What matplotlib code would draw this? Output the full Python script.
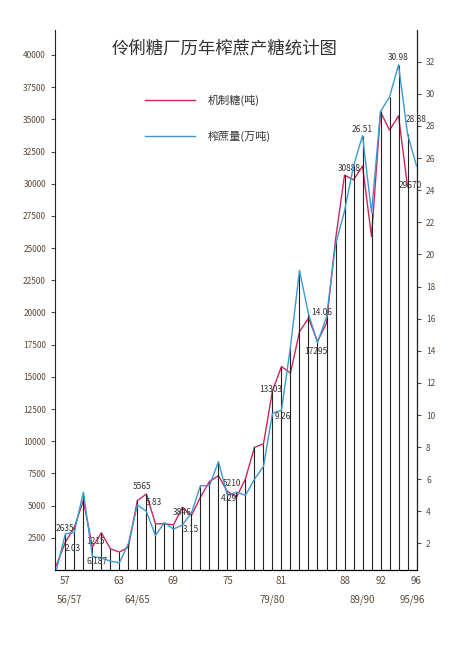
import numpy as np
import matplotlib
matplotlib.use('Agg')
from matplotlib import pyplot as plt

plt.rcParams['font.family'] = ['Noto Sans CJK SC', 'DejaVu Sans']

# sugar output (tons), 1956..1995
sugar_years = list(range(56, 96))
sugar = [360, 2160, 3330, 5400, 1780, 2890, 1650, 1390, 1780, 5400,
         5900, 3590, 3590, 3500, 4880, 4230, 5650, 6870, 7330, 6090,
         5650, 7080, 9530, 9790, 13920, 15800, 15300, 18500, 19560, 17750,
         19170, 25650, 30670, 30300, 31370, 25900, 35580, 34160, 35270, 29770]
# cane crushed (10k tons), 1956..1996
cane_years = list(range(56, 97))
cane = [0.35, 2.6, 2.7, 5.2, 1.2, 1.1, 0.9, 0.8, 2.0, 4.4,
        4.0, 2.5, 3.3, 2.9, 3.15, 3.9, 5.6, 5.6, 7.1, 5.0,
        5.2, 5.0, 6.0, 6.8, 10.1, 10.3, 14.25, 19.0, 16.3, 14.5,
        16.1, 20.6, 22.7, 25.5, 27.4, 22.6, 28.9, 29.8, 31.8, 27.5, 25.5]

x_ticks = [57, 63, 69, 75, 81, 88, 92, 96]
seasons = [(57.5, '56/57'), (65, '64/65'), (80, '79/80'), (90, '89/90'), (95.5, '95/96')]
left_notes = [(57, 2900, '2635'), (60.3, 1900, '1215'), (65.5, 6100, '5565'),
              (70, 4100, '3846'), (75.5, 6400, '5210'), (79.8, 13700, '13303'),
              (84.8, 16600, '17295'), (88.5, 30800, '30888'), (95.3, 29500, '29670')]
right_notes = [(57.8, 1.4, '2.03'), (60.5, 0.6, '6.187'), (66.8, 4.3, '5.83'),
               (71, 2.6, '3.15'), (75.2, 4.5, '4.29'), (81.2, 9.6, '9.26'),
               (85.5, 16.1, '14.06'), (90, 27.5, '26.51'), (94, 32.0, '30.98'),
               (96, 28.1, '28.88')]

ink = '#5a4a3a'
red = '#c8285a'
blue = '#3a9ad0'

fig = plt.figure(figsize=(4.5, 6.57), dpi=100)
ax = fig.add_axes([55 / 450, 1 - 570 / 657, 362 / 450, 540 / 657])
ax2 = ax.twinx()

ax.set_xlim(55.85, 96.05)
ax.set_ylim(0, 41940)
ax2.set_ylim(0.35, 33.97)

# vertical drop lines to the higher of the two curves
to_right = ax.transData + ax2.transData.inverted()
for yr in range(57, 97):
    c = cane[cane_years.index(yr)]
    top = c
    if yr in sugar_years:
        s = sugar[sugar_years.index(yr)]
        top = max(c, to_right.transform((yr, s))[1])
    ax2.vlines(yr, 0.35, top, color='#222222', lw=0.8)

ax.plot(sugar_years, sugar, color=red, lw=1.0, zorder=3)
ax2.plot(cane_years, cane, color=blue, lw=1.0, zorder=3)

for x, y, t in left_notes:
    ax.text(x, y, t, fontsize=6, color='#333333', ha='center', va='bottom', zorder=4)
for x, y, t in right_notes:
    ax2.text(x, y, t, fontsize=6, color='#333333', ha='center', va='bottom', zorder=4)

ax.set_yticks(np.arange(2500, 40001, 2500))
ax.tick_params(axis='y', labelsize=6, colors=ink, length=3)
ax2.set_yticks(range(2, 33, 2))
ax2.tick_params(axis='y', labelsize=6, colors=ink, length=3)
ax.set_xticks(x_ticks)
ax.tick_params(axis='x', labelsize=7, colors=ink, length=0, pad=4)
ax.spines['top'].set_visible(False)
ax2.spines['top'].set_visible(False)
ax2.spines['left'].set_visible(False)
ax.spines['bottom'].set_color('#222222')
ax.spines['left'].set_color('#222222')
ax2.spines['right'].set_color('#222222')

for x, t in seasons:
    ax.text(x, -2300, t, fontsize=7, color=ink, ha='center', va='center')

fig.text(0.5, 1 - 48 / 657, '伶俐糖厂历年榨蔗产糖统计图', fontsize=12.5, color='#333333', ha='center', va='center')
# legend
fig.add_artist(plt.Line2D([145 / 450, 195 / 450], [1 - 100 / 657] * 2, color=red, lw=1))
fig.text(208 / 450, 1 - 100 / 657, '机制糖(吨)', fontsize=8, color='#333333', va='center')
fig.add_artist(plt.Line2D([145 / 450, 195 / 450], [1 - 136 / 657] * 2, color=blue, lw=1))
fig.text(208 / 450, 1 - 136 / 657, '榨蔗量(万吨)', fontsize=8, color='#333333', va='center')

fig.savefig('out.png', dpi=100, facecolor='white')
